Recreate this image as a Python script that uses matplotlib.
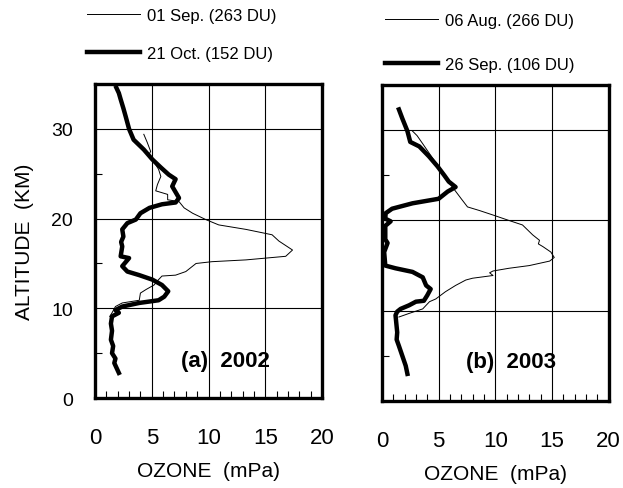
import matplotlib.pyplot as plt
from matplotlib.ticker import MultipleLocator

plt.rcParams['font.family'] = ['Liberation Sans', 'DejaVu Sans']

# 2002 soundings: ozone partial pressure (mPa) vs altitude (km)
sep02_ozone = [4.3, 4.6, 4.9, 4.7, 5.2, 5.6, 5.8, 5.5, 5.35, 6.4, 6.4, 7.4, 7.85, 8.6,
               9.75, 10.9, 13.3, 15.6, 16.2, 17.4, 16.8, 13.3, 10.3, 8.9, 8.0, 7.1,
               5.9, 5.6, 5.2, 4.5, 4.0, 3.9, 2.4, 1.8, 1.5, 1.3]
sep02_alt = [29.4, 28.5, 27.5, 27.0, 26.3, 25.5, 24.7, 23.8, 23.1, 22.7, 22.1, 21.9, 21.2, 20.6,
             19.9, 19.3, 18.8, 18.2, 17.5, 16.5, 15.8, 15.4, 15.2, 15.0, 14.1, 13.7,
             13.6, 13.2, 12.6, 12.1, 11.7, 10.9, 10.6, 10.2, 9.5, 9.1]

oct02_ozone = [1.88, 2.1, 2.26, 2.5, 2.7, 3.0, 3.4, 4.3, 5.05, 5.8, 6.5, 7.1, 6.8, 7.4, 7.1,
               5.9, 4.8, 4.0, 3.6, 2.85, 2.4, 2.5, 2.3, 2.4, 2.26, 3.0, 2.4, 2.85, 3.9,
               5.05, 5.9, 6.45, 6.1, 5.6, 3.9, 2.4, 1.8, 2.1, 1.5, 1.4, 1.5, 1.4, 1.6,
               1.5, 1.8, 1.7, 2.1]
oct02_alt = [34.6, 34.0, 33.3, 32.3, 31.4, 30.0, 28.8, 27.7, 26.6, 25.7, 24.9, 24.4, 23.6, 22.3, 21.8,
             21.6, 21.2, 20.6, 19.9, 19.5, 18.8, 18.0, 17.4, 16.9, 15.8, 15.6, 14.7, 14.1, 13.7,
             13.2, 12.6, 11.9, 11.3, 10.9, 10.6, 10.2, 9.8, 9.5, 9.1, 8.3, 7.5, 6.5, 5.8,
             5.0, 4.4, 3.9, 2.8]

# 2003 soundings
aug03_ozone = [2.7, 3.1, 3.6, 4.2, 4.9, 5.5, 5.9, 6.4, 7.0, 7.55, 8.6, 9.8, 11.2, 12.4,
               13.3, 13.9, 13.8, 14.2, 14.9, 15.2, 14.8, 13.0, 11.2, 9.8, 9.5, 9.8, 8.0,
               7.4, 6.5, 5.6, 4.75, 4.2, 3.6, 2.4, 1.5]
aug03_alt = [29.9, 29.4, 28.5, 27.4, 26.1, 25.0, 24.3, 23.4, 22.4, 21.5, 21.1, 20.6, 20.0, 19.5,
             18.4, 17.8, 17.4, 17.1, 16.5, 15.9, 15.5, 15.0, 14.7, 14.4, 14.2, 13.9, 13.6,
             13.4, 12.8, 12.1, 11.3, 11.0, 10.2, 9.7, 9.3]

sep03_ozone = [1.5, 1.8, 2.25, 2.5, 3.3, 4.15, 4.9, 5.5, 5.9, 6.5, 5.8, 5.0, 2.7, 0.9,
               0.33, 0.3, 0.77, 0.3, 0.3, 0.5, 0.2, 0.3, 1.2, 2.7, 3.6, 3.9, 4.3, 4.0,
               3.7, 3.0, 2.4, 1.65, 1.35, 1.2, 1.35, 1.3, 1.5, 1.8, 2.1, 2.25]
sep03_alt = [32.3, 31.3, 29.9, 28.7, 28.2, 27.1, 26.0, 25.0, 24.3, 23.7, 23.2, 22.4, 21.9, 21.3,
             20.8, 20.2, 19.9, 19.4, 17.9, 17.5, 16.5, 15.0, 14.7, 14.3, 13.7, 12.8, 12.4, 11.7,
             11.1, 11.0, 10.6, 10.2, 9.9, 9.5, 7.6, 6.8, 6.1, 5.0, 3.9, 3.0]

panels = [
    dict(thin=(sep02_ozone, sep02_alt, '01 Sep. (263 DU)'),
         thick=(oct02_ozone, oct02_alt, '21 Oct. (152 DU)'),
         tag='(a)  2002', tag_xy=(11.45, 4.2), pos=[0.1525, 0.184, 0.3644, 0.642],
         leg=(0.1397, 0.981), spacing=1.35),
    dict(thin=(aug03_ozone, aug03_alt, '06 Aug. (266 DU)'),
         thick=(sep03_ozone, sep03_alt, '26 Sep. (106 DU)'),
         tag='(b)  2003', tag_xy=(11.4, 4.4), pos=[0.613, 0.178, 0.364, 0.646],
         leg=(0.618, 0.972), spacing=1.75),
]

fig = plt.figure(figsize=(6.23, 4.89), dpi=100)

for i, p in enumerate(panels):
    ax = fig.add_axes(p['pos'])
    x, y, lab = p['thin']
    l1, = ax.plot(x, y, color='black', lw=0.7, label=lab)
    x, y, lab = p['thick']
    l2, = ax.plot(x, y, color='black', lw=3.2, label=lab)

    ax.set_xlim(0, 20)
    ax.set_ylim(0, 35)
    ax.xaxis.set_major_locator(MultipleLocator(5))
    ax.xaxis.set_minor_locator(MultipleLocator(1))
    ax.yaxis.set_major_locator(MultipleLocator(10))
    ax.yaxis.set_minor_locator(MultipleLocator(5))
    ax.grid(True, which='major', color='black', lw=0.8)
    ax.tick_params(which='major', length=0)
    ax.tick_params(axis='x', which='major', pad=21, labelsize=16)
    ax.tick_params(axis='y', which='major', pad=16, labelsize=14)
    ax.tick_params(which='minor', direction='in', length=5, width=0.8, top=False, right=False)
    for s in ax.spines.values():
        s.set_linewidth(2.4)

    ax.set_xlabel('OZONE  (mPa)', fontsize=15, labelpad=9.5)
    if i == 0:
        ax.set_ylabel('ALTITUDE  (KM)', fontsize=15, labelpad=12)
    else:
        ax.tick_params(axis='y', labelleft=False)

    ax.text(*p['tag_xy'], p['tag'], fontsize=16, fontweight='bold',
            ha='center', va='center')

    ax.legend(handles=[l1, l2], loc='upper left', bbox_to_anchor=p['leg'],
              bbox_transform=fig.transFigure, frameon=False, fontsize=12,
              handlelength=3.2, handletextpad=0.4, labelspacing=p['spacing'],
              borderpad=0, borderaxespad=0)

fig.savefig('out.png', dpi=100)
